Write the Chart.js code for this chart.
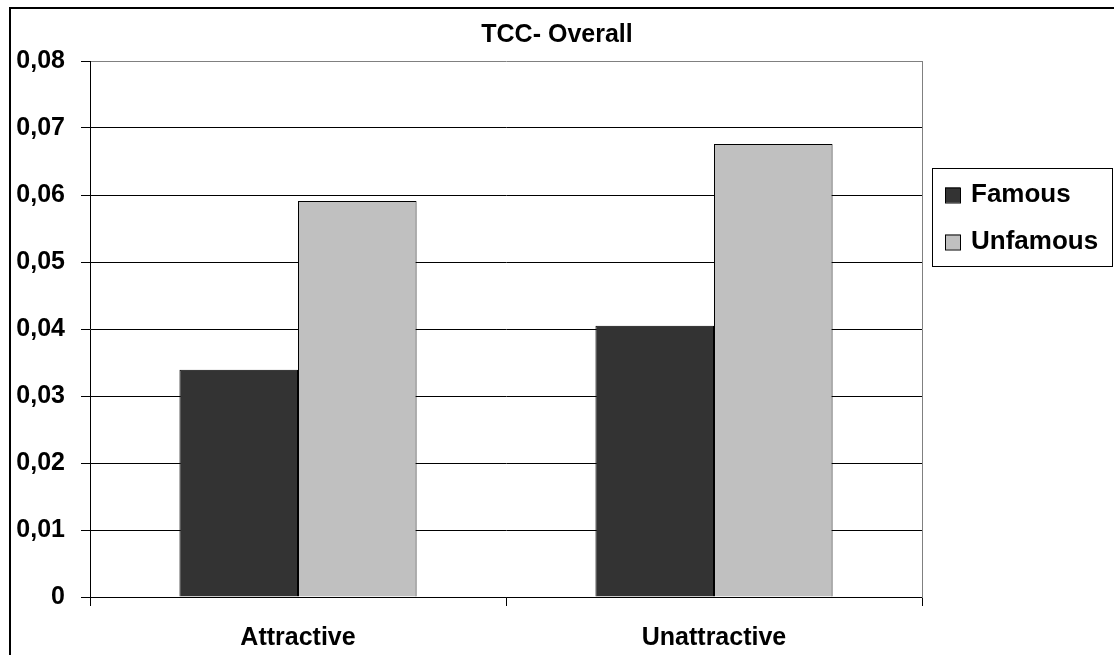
<!DOCTYPE html>
<html>
<head>
<meta charset="utf-8">
<script src="https://cdn.jsdelivr.net/npm/chart.js@4/dist/chart.umd.min.js"></script>
<style>
  html, body { margin: 0; padding: 0; background: #ffffff; }
  #c { display: block; }
</style>
</head>
<body>
<canvas id="c" width="1114" height="655"></canvas>
<script>
const categories = ['Attractive', 'Unattractive'];
const seriesNames = ['Famous', 'Unfamous'];
const famousValues = [0.0339, 0.0405];
const unfamousValues = [0.0591, 0.0676];
const yTickLabels = ['0', '0,01', '0,02', '0,03', '0,04', '0,05', '0,06', '0,07', '0,08'];
const chartTitle = 'TCC- Overall';

const FONT = '"Liberation Sans", Arial, sans-serif';

const framePlugin = {
  id: 'frame',
  afterDraw(chart) {
    const ctx = chart.ctx;
    ctx.save();
    // outer chart border (extends past right/bottom edges)
    ctx.strokeStyle = '#000';
    ctx.lineWidth = 2;
    ctx.strokeRect(10, 8, 1200, 1000);

    // legend
    const lx = 932.5, ly = 168.5, lw = 180, lh = 98;
    ctx.lineWidth = 1;
    ctx.strokeStyle = '#000';
    ctx.strokeRect(lx, ly, lw, lh);
    ctx.font = 'bold 26px ' + FONT;
    ctx.textBaseline = 'middle';
    ctx.textAlign = 'left';
    const rowsY = [195, 242];
    chart.data.datasets.forEach((ds, i) => {
      const cy = rowsY[i];
      ctx.fillStyle = ds.backgroundColor;
      ctx.fillRect(945, cy - 7.5, 15, 15);
      ctx.strokeRect(945.5, cy - 7, 15, 15);
      ctx.fillStyle = '#000';
      ctx.fillText(ds.label, 971, cy);
    });
    ctx.restore();
  }
};

new Chart(document.getElementById('c'), {
  type: 'bar',
  data: {
    labels: categories,
    datasets: [
      { label: seriesNames[0], data: famousValues, backgroundColor: '#333333', borderColor: '#000000', borderWidth: 1 },
      { label: seriesNames[1], data: unfamousValues, backgroundColor: '#c0c0c0', borderColor: '#000000', borderWidth: 1 }
    ]
  },
  options: {
    responsive: false,
    animation: false,
    layout: { padding: 0 },
    categoryPercentage: 0.57,
    barPercentage: 1.0,
    plugins: {
      legend: { display: false },
      tooltip: { enabled: false },
      title: {
        display: true,
        text: chartTitle,
        color: '#000',
        font: { family: FONT, size: 25, weight: 'bold' },
        padding: { top: 20, bottom: 11 }
      }
    },
    scales: {
      x: {
        offset: true,
        grid: { offset: true, drawOnChartArea: false, drawTicks: true, tickLength: 9, color: '#000', tickColor: '#000' },
        border: { display: true, color: '#000', width: 1 },
        ticks: { color: '#000', padding: 17, maxRotation: 0, font: { family: FONT, size: 25, weight: 'bold' } },
        afterFit(scale) { scale.height = 58; }
      },
      y: {
        min: 0, max: 0.08,
        ticks: {
          stepSize: 0.01,
          color: '#000',
          padding: 16,
          font: { family: FONT, size: 25, weight: 'bold' },
          callback: (v, i) => yTickLabels[i]
        },
        grid: {
          color: (c) => (c.index === 8 ? '#808080' : '#000'),
          tickColor: '#000',
          tickLength: 9,
          lineWidth: 1
        },
        border: { display: true, color: '#000', width: 1 },
        afterFit(scale) { scale.width = 90; }
      },
      yRight: {
        position: 'right',
        min: 0, max: 0.08,
        ticks: { display: false },
        grid: { display: true, drawOnChartArea: false, drawTicks: false },
        border: { display: true, color: '#808080', width: 1 },
        afterFit(scale) { scale.width = 192; }
      }
    }
  },
  plugins: [framePlugin]
});
</script>
</body>
</html>
